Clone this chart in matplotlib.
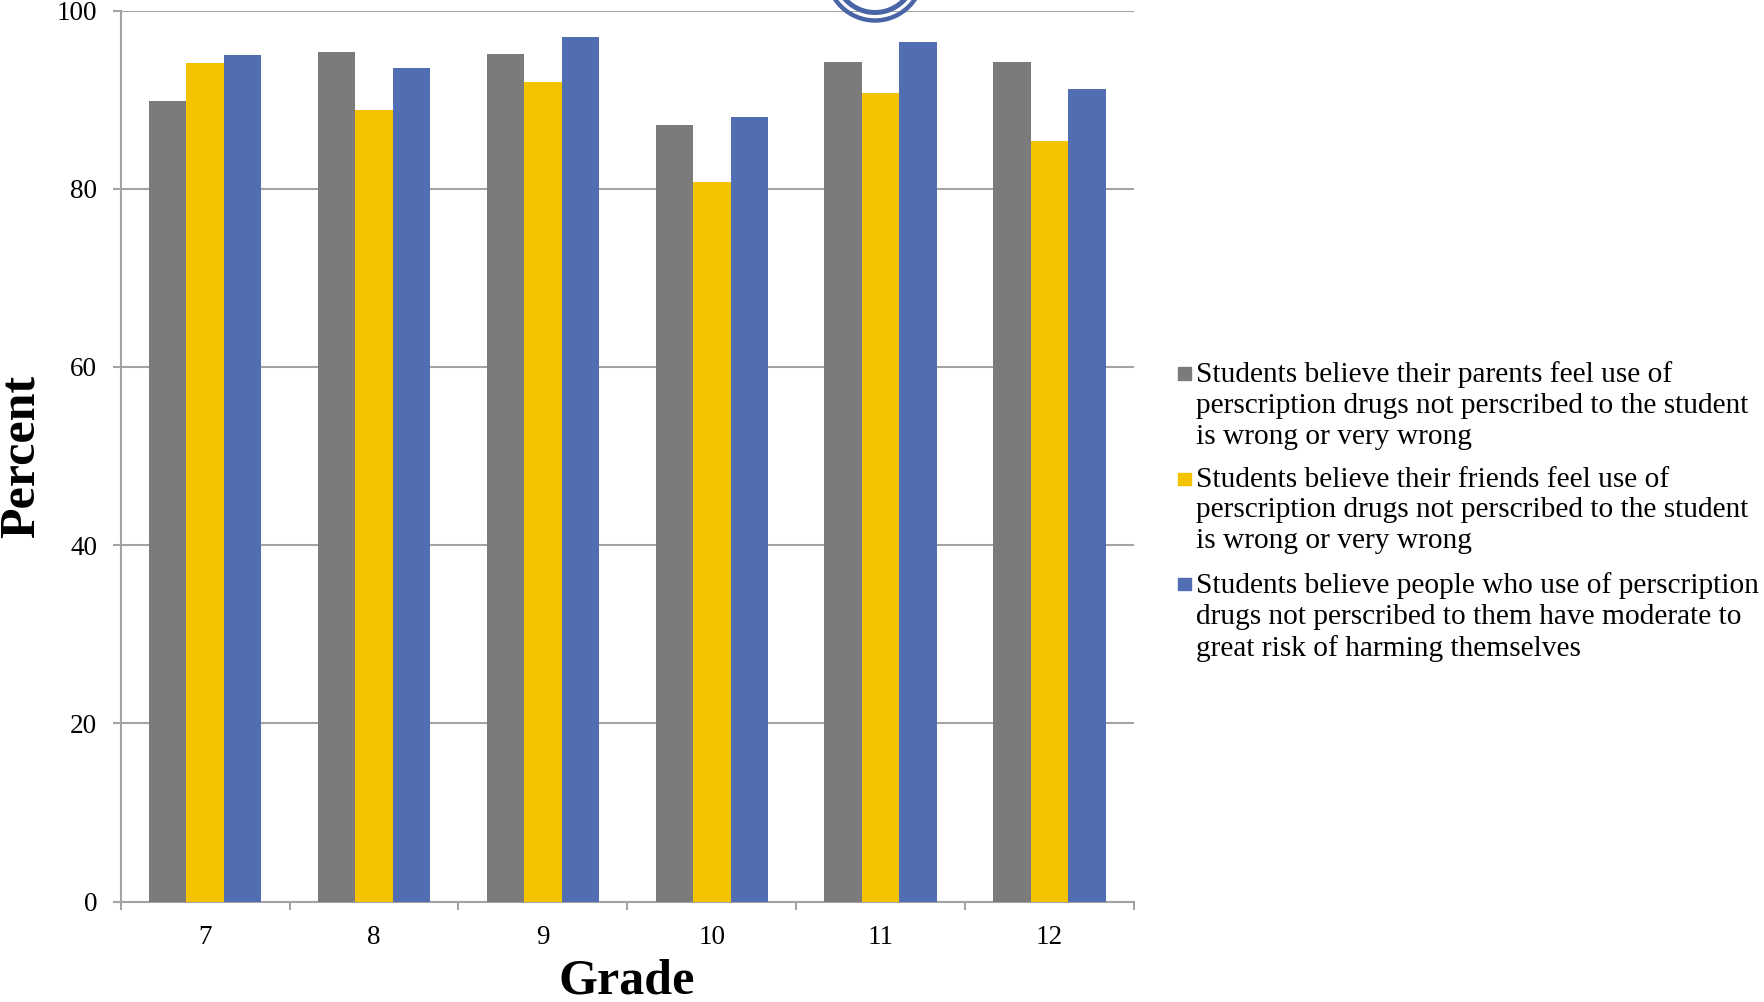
import matplotlib.pyplot as plt
import numpy as np
from matplotlib.patches import Circle, Rectangle

grades = ['7', '8', '9', '10', '11', '12']
parents = [89.8, 95.3, 95.1, 87.1, 94.2, 94.2]
friends = [94.1, 88.8, 92.0, 80.7, 90.7, 85.3]
risk = [95.0, 93.6, 97.0, 88.0, 96.5, 91.2]

series_labels = [
    'Students believe their parents feel use of\nperscription drugs not perscribed to the student\nis wrong or very wrong',
    'Students believe their friends feel use of\nperscription drugs not perscribed to the student\nis wrong or very wrong',
    'Students believe people who use of perscription\ndrugs not perscribed to them have moderate to\ngreat risk of harming themselves',
]
colors = ['#7B7B7B', '#F3C300', '#516EB2']

plt.rcParams['font.family'] = ['Liberation Serif', 'DejaVu Serif']

W, H = 1764, 1002
fig = plt.figure(figsize=(W / 100, H / 100), dpi=100)
ax = fig.add_axes([120.7 / W, 1 - 901.5 / H, (1134 - 120.7) / W, (901.5 - 10.5) / H])

x = np.arange(len(grades))
width = 0.222
for i, vals in enumerate([parents, friends, risk]):
    ax.bar(x + (i - 1) * width, vals, width, color=colors[i], zorder=3)

grid_col = '#A3A3A3'
ax.set_ylim(0, 100)
ax.set_xlim(-0.5, len(grades) - 0.5)
ax.set_yticks(np.arange(0, 101, 20))
ax.yaxis.grid(True, color=grid_col, linewidth=1.5, zorder=0)
ax.tick_params(axis='y', length=6, width=1.5, color=grid_col, pad=11, labelsize=19.5)

# ticks between categories, labels at centres
ax.set_xticks(np.arange(-0.5, len(grades), 1))
ax.set_xticklabels([])
ax.set_xticks(x, minor=True)
ax.set_xticklabels(grades, minor=True)
ax.tick_params(axis='x', which='major', length=6, width=1.5, color=grid_col)
ax.tick_params(axis='x', which='minor', length=0, pad=17, labelsize=19.5)

for s in ['top', 'right']:
    ax.spines[s].set_visible(False)
for s in ['left', 'bottom']:
    ax.spines[s].set_color(grid_col)
    ax.spines[s].set_linewidth(1.5)

fig.text(22 / W, 1 - 456 / H, 'Percent', rotation=90, ha='center', va='center',
         fontsize=36, fontweight='bold')
fig.text(627 / W, 1 - 993 / H, 'Grade', ha='center', va='baseline',
         fontsize=36, fontweight='bold')

# legend drawn by hand so the marker sits on the first line
fs = 21.2
for i, lab in enumerate(series_labels):
    base = 381.7 + i * 105.25
    sq = 12.5
    fig.patches.append(Rectangle((1178 / W, 1 - (base - 8 + sq / 2) / H), sq / W, sq / H,
                                 transform=fig.transFigure, color=colors[i]))
    fig.text(1196 / W, 1 - (base - 20.6 * fs / 21.5) / H, lab, ha='left', va='top',
             fontsize=fs, linespacing=1.242)

# double ring partly cut off at the top
for r, lw in [(0.48, 3.2), (0.40, 3.6)]:
    fig.patches.append(Circle((8.75, 10.295), r, transform=fig.dpi_scale_trans,
                              fill=False, edgecolor='#4A64A8', linewidth=lw, clip_on=False))

fig.savefig('out.png', dpi=100)
